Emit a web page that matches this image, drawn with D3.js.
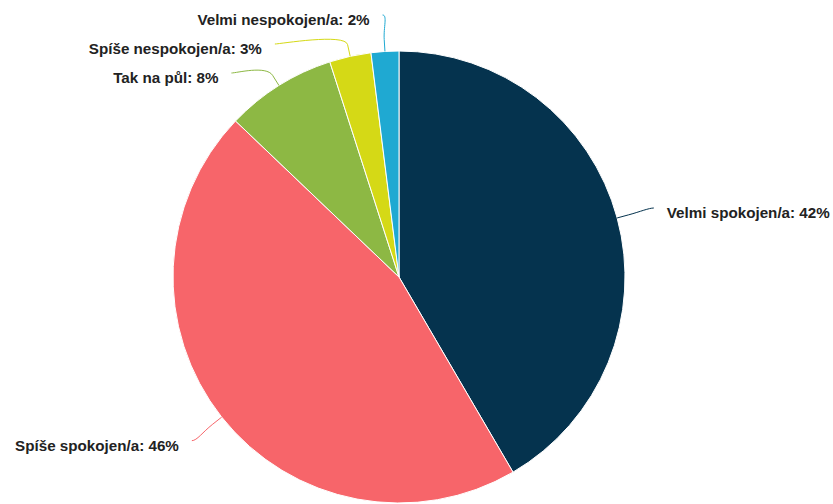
<!DOCTYPE html>
<html>
<head>
<meta charset="utf-8">
<script src="https://cdn.jsdelivr.net/npm/d3@7"></script>
<style>
  html, body { margin: 0; padding: 0; background: #fff; }
  svg { display: block; }
</style>
</head>
<body>
<svg id="chart" width="833" height="504"></svg>
<script>
const categories = ["Velmi spokojen/a", "Spíše spokojen/a", "Tak na půl", "Spíše nespokojen/a", "Velmi nespokojen/a"];
const values = [42, 46, 8, 3, 2];
const colors = ["#05334e", "#f7656a", "#8db844", "#d5d916", "#1fa9d2"];

const W = 833, H = 504;
const cx = 399, cy = 277, r = 226;
const labelR = r + 38;       // connector end radius
const breakOffset = 12;      // soft connector break distance
const textGap = 13;
const spacing = 29;
const minY = 15, maxY = H - 15;

const svg = d3.select("#chart");
const pie = d3.pie().sort(null).value(d => d);
const arcs = pie(values);
const arc = d3.arc().innerRadius(0).outerRadius(r);

const g = svg.append("g").attr("transform", `translate(${cx},${cy})`);
g.selectAll("path.slice")
  .data(arcs)
  .enter().append("path")
  .attr("class", "slice")
  .attr("d", arc)
  .attr("fill", (d, i) => colors[i])
  .attr("stroke", "#fff")
  .attr("stroke-width", 1)
  .attr("stroke-linejoin", "round");

// label layout
const pt = (a, rho) => [cx + rho * Math.sin(a), cy - rho * Math.cos(a)];
const labels = arcs.map((d, i) => {
  const mid = (d.startAngle + d.endAngle) / 2;
  const nat = pt(mid, labelR);
  return {
    i, mid,
    left: Math.sin(mid) < 0,
    naturalX: nat[0], naturalY: nat[1], y: nat[1],
    touch: pt(mid, r), brk: pt(mid, r + breakOffset), cp2: pt(mid, r + 2 * breakOffset)
  };
});

function getX(y, left) {
  const dy = Math.max(-labelR, Math.min(labelR, y - cy));
  const dx = Math.sqrt(labelR * labelR - dy * dy);
  return left ? cx - dx : cx + dx;
}

[true, false].forEach(side => {
  const group = labels.filter(l => l.left === side).sort((a, b) => a.naturalY - b.naturalY);
  let prev = -Infinity;
  group.forEach(l => {
    l.y = Math.max(l.naturalY, prev + spacing, minY);
    prev = l.y;
  });
  let next = Infinity;
  for (let k = group.length - 1; k >= 0; k--) {
    const l = group[k];
    l.y = Math.min(l.y, next - spacing, maxY);
    next = l.y;
  }
  group.forEach(l => {
    const nearEdge = l.y < cy - labelR + 5 || l.y > cy + labelR - 5;
    l.x = getX(nearEdge ? l.naturalY : l.y, l.left);
  });
});

// connectors
svg.append("g").selectAll("path.conn")
  .data(labels)
  .enter().append("path")
  .attr("class", "conn")
  .attr("fill", "none")
  .attr("stroke", d => colors[d.i])
  .attr("stroke-width", 1)
  .attr("d", d => {
    const c1x = d.x + (d.left ? 5 : -5);
    return `M${d.x},${d.y} C${c1x},${d.y} ${d.cp2[0]},${d.cp2[1]} ${d.brk[0]},${d.brk[1]} L${d.touch[0]},${d.touch[1]}`;
  });

// label texts
svg.append("g").selectAll("text.lbl")
  .data(labels)
  .enter().append("text")
  .attr("class", "lbl")
  .attr("x", d => d.left ? d.x - textGap : d.x + textGap)
  .attr("y", d => d.y + 5)
  .attr("dy", "0.35em")
  .attr("text-anchor", d => d.left ? "end" : "start")
  .attr("font-family", "'Liberation Sans', Arial, Helvetica, sans-serif")
  .attr("font-weight", "bold")
  .attr("font-size", "15.2px")
  .attr("fill", "#222")
  .text(d => `${categories[d.i]}: ${values[d.i]}%`);
</script>
</body>
</html>
